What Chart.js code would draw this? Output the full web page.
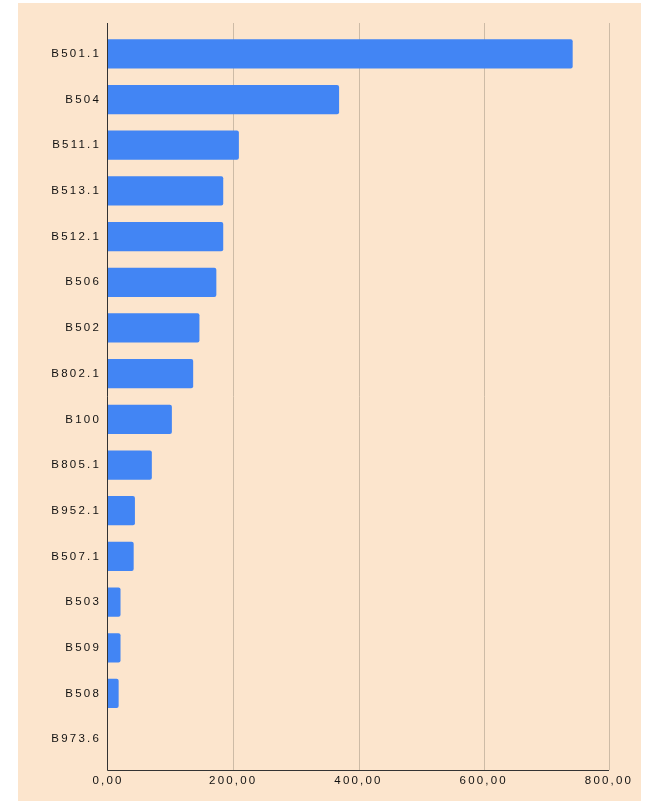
<!DOCTYPE html>
<html>
<head>
<meta charset="utf-8">
<title>Bar chart</title>
<script src="https://cdn.jsdelivr.net/npm/chart.js@4/dist/chart.umd.min.js"></script>
<style>
  html, body { margin: 0; padding: 0; background: #ffffff; }
  #wrap { position: relative; width: 645px; height: 803px; }
</style>
</head>
<body>
<div id="wrap"><canvas id="chart"></canvas></div>
<script>
// Chart data
const categories = ['B501.1', 'B504', 'B511.1', 'B513.1', 'B512.1', 'B506', 'B502', 'B802.1',
  'B100', 'B805.1', 'B952.1', 'B507.1', 'B503', 'B509', 'B508', 'B973.6'];
const values = [742, 369, 209, 184, 184, 173, 146, 136, 102, 70, 43, 41, 20, 20, 17, 0];
const xTicks = [0, 200, 400, 600, 800];

const panelColor = '#fce5cd';
const barColor = '#4285f4';
const gridColor = '#cdbba6';
const axisColor = '#333333';
const textColor = '#111111';
const labelFont = { family: '"Liberation Sans", Arial, sans-serif', size: 11.5 };

// Beige panel behind the plot + wider letter spacing for the labels
const panelPlugin = {
  id: 'panel',
  beforeDraw(chart) {
    const ctx = chart.ctx;
    ctx.save();
    ctx.fillStyle = panelColor;
    ctx.fillRect(18, 3, 623, 798);
    ctx.restore();
    ctx.letterSpacing = '2.2px';
  }
};

// Grid and axis lines reach a little past the first and last category
const gridPlugin = {
  id: 'extGrid',
  beforeDatasetsDraw(chart) {
    const { ctx, chartArea, scales } = chart;
    const top = chartArea.top - 8, bottom = chartArea.bottom + 8;
    ctx.save();
    ctx.strokeStyle = gridColor;
    ctx.lineWidth = 1;
    xTicks.slice(1).forEach(v => {
      const x = Math.round(scales.x.getPixelForValue(v)) + 0.5;
      ctx.beginPath();
      ctx.moveTo(x, top);
      ctx.lineTo(x, bottom);
      ctx.stroke();
    });
    ctx.restore();
  },
  afterDatasetsDraw(chart) {
    const { ctx, chartArea, scales } = chart;
    const top = chartArea.top - 8, bottom = Math.round(chartArea.bottom + 8) + 0.5;
    const x0 = Math.round(scales.x.getPixelForValue(0)) - 0.5;
    const x1 = scales.x.getPixelForValue(xTicks[xTicks.length - 1]);
    ctx.save();
    ctx.strokeStyle = axisColor;
    ctx.lineWidth = 1;
    ctx.beginPath();
    ctx.moveTo(x0, top);
    ctx.lineTo(x0, bottom);
    ctx.lineTo(x1, bottom);
    ctx.stroke();
    ctx.restore();
  }
};

new Chart(document.getElementById('chart'), {
  type: 'bar',
  data: {
    labels: categories,
    datasets: [{
      data: values,
      backgroundColor: barColor,
      borderRadius: 2,
      borderSkipped: 'start',
      categoryPercentage: 1,
      barPercentage: 0.64
    }]
  },
  options: {
    indexAxis: 'y',
    responsive: true,
    maintainAspectRatio: false,
    animation: false,
    layout: { padding: { left: 18, right: 36, top: 31, bottom: 11 } },
    plugins: {
      legend: { display: false },
      tooltip: { enabled: false }
    },
    scales: {
      x: {
        min: 0,
        max: 800,
        grid: { display: false, drawTicks: false },
        border: { display: false },
        afterFit: s => { s.height = 30; },
        ticks: {
          stepSize: 200,
          padding: 12,
          color: textColor,
          font: labelFont,
          callback: v => v.toFixed(2).replace('.', ',')
        }
      },
      y: {
        grid: { display: false, drawTicks: false },
        border: { display: false },
        afterFit: s => { s.width = 90; },
        ticks: {
          padding: 7,
          color: textColor,
          font: labelFont
        }
      }
    }
  },
  plugins: [panelPlugin, gridPlugin]
});
</script>
</body>
</html>
